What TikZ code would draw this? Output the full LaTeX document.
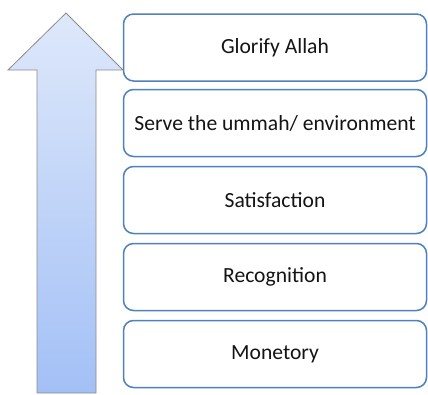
\documentclass[tikz,border=0pt]{standalone}
\usepackage{fontspec}
\setmainfont{Carlito}
\definecolor{boxline}{RGB}{79,129,189}
\definecolor{arrowtop}{RGB}{222,232,250}
\definecolor{arrowbot}{RGB}{163,192,246}
\definecolor{arrowline}{RGB}{140,140,140}
\definecolor{txt}{RGB}{20,20,20}
\begin{document}
\begin{tikzpicture}[x=1pt,y=-1pt,
  level/.style={draw=boxline, line width=1.5pt, rounded corners=10pt, fill=white,
    minimum width=303pt, minimum height=67pt, inner sep=0pt,
    font=\fontsize{21.6}{25}\selectfont, text=txt}]
\useasboundingbox (0,0) rectangle (428,394);
% upward arrow
\shade[top color=arrowtop, bottom color=arrowbot, draw=arrowline, line width=0.8pt]
  (37,393) -- (37,70) -- (8,70) -- (66,13) -- (123,70) -- (96,70) -- (96,393) -- cycle;
% levels, top to bottom
\node[level] (glorify) at (275,47.5) {Glorify Allah};
\node[level] (serve) at (275,123) {Serve the ummah/ environment};
\node[level] (satis) at (275,200) {Satisfaction};
\node[level] (recog) at (275,277) {Recognition};
\node[level] (monet) at (275,354) {Monetory};
\end{tikzpicture}
\end{document}
